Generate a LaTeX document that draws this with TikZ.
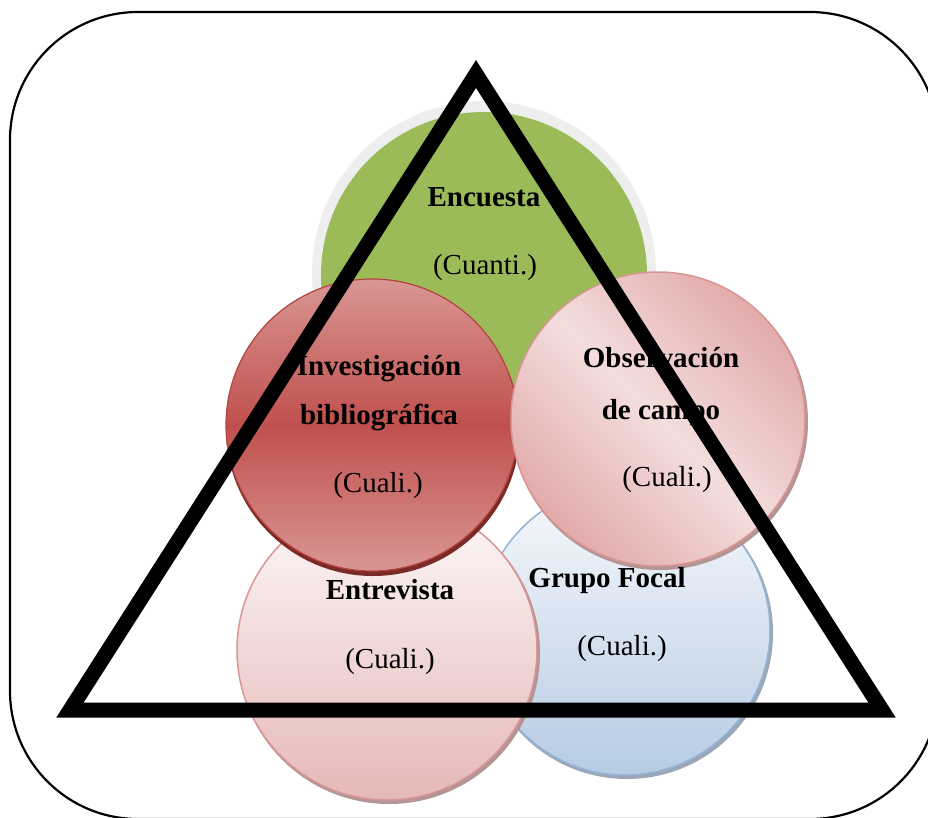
\documentclass[tikz,border=0pt]{standalone}
\usepackage{fontspec}
\setmainfont{Liberation Serif}
\definecolor{ringgray}{HTML}{EEEEEE}
\definecolor{encgreen}{HTML}{9BBB59}
\definecolor{invmid}{HTML}{C0504D}
\definecolor{invlight}{HTML}{D99694}
\definecolor{invrim}{HTML}{B5433F}
\definecolor{invshadow}{HTML}{7A2A27}
\definecolor{pinkrim}{HTML}{D99594}
\definecolor{pinkdark}{HTML}{E2ABAA}
\definecolor{pinklight}{HTML}{F3DEDD}
\definecolor{pinkshadow}{HTML}{B39595}
\definecolor{entop}{HTML}{FDF9F9}
\definecolor{enbot}{HTML}{E5B8B7}
\definecolor{bluerim}{HTML}{95B3D7}
\definecolor{bluetop}{HTML}{F7F9FC}
\definecolor{bluebot}{HTML}{B6CBE3}
\definecolor{blueshadow}{HTML}{9AA7B8}
\begin{document}
\begin{tikzpicture}[x=1pt,y=-1pt,
  disc/.style={circle, inner sep=0pt, minimum size=#1},
  lbl/.style={font=\fontsize{29}{34}\selectfont, anchor=base, inner sep=0pt},
  blbl/.style={font=\fontsize{29}{34}\selectfont\bfseries, anchor=base, inner sep=0pt}]
\useasboundingbox (0,0) rectangle (928,817);
% frame
\draw[line width=2.2pt, rounded corners=128pt] (10,12) rectangle (938,819);
% Encuesta
\node[disc=344pt, fill=ringgray] (encring) at (484,273) {};
\node[disc=326pt, fill=encgreen] (enc) at (484,275) {};
% Grupo Focal
\node[disc=292pt, fill=blueshadow] (grpsh) at (627,633) {};
\node[disc=290pt, draw=bluerim, line width=1.5pt, top color=bluetop, bottom color=bluebot] (grp) at (625,630) {};
% Entrevista
\node[disc=302pt, fill=pinkshadow] (entsh) at (389,653) {};
\node[disc=300pt, draw=pinkrim, line width=1.5pt, top color=entop, bottom color=enbot] (ent) at (387,650) {};
% Investigacion
\node[disc=294pt, fill=invshadow] (invsh) at (373,429) {};
\node[disc=292pt, draw=invrim, line width=1.2pt, top color=invlight, bottom color=invlight, middle color=invmid] (inv) at (372,425) {};
% Observacion
\node[disc=296pt, fill=pinkshadow] (obssh) at (660,422) {};
\node[disc=294pt, draw=pinkrim, line width=1.5pt, top color=pinkdark, bottom color=pinkdark, middle color=pinklight, shading angle=-45] (obs) at (658,419) {};
% labels
\node[blbl] (t1) at (484,206) {Encuesta};
\node[lbl] (t2) at (485,274) {(Cuanti.)};
\node[blbl] (t3) at (379,375) {Investigación};
\node[blbl] (t4) at (379,424) {bibliográfica};
\node[lbl] (t5) at (378,492) {(Cuali.)};
\node[blbl] (t6) at (661,367) {Observación};
\node[blbl] (t7) at (661,419) {de campo};
\node[lbl] (t8) at (667,486) {(Cuali.)};
\node[blbl] (t9) at (390,599) {Entrevista};
\node[lbl] (t10) at (390,668) {(Cuali.)};
\node[blbl] (t11) at (607,587) {Grupo Focal};
\node[lbl] (t12) at (622,655) {(Cuali.)};
% triangle
\draw[line width=15pt, line join=miter] (476,74) -- (882,710) -- (70,710) -- cycle;
\end{tikzpicture}
\end{document}
